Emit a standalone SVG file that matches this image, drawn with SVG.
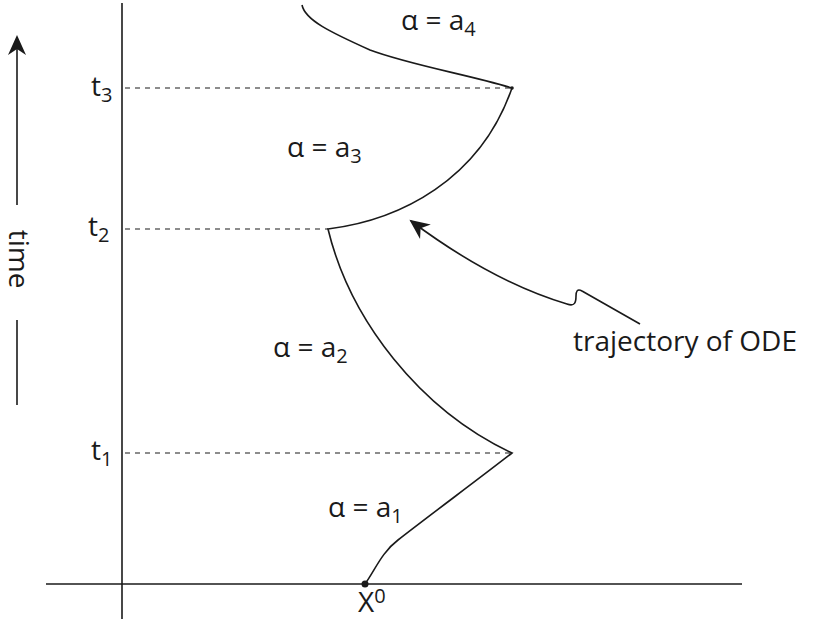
<svg xmlns="http://www.w3.org/2000/svg" width="815" height="619" viewBox="0 0 815 619">
<style>
.ln{fill:none;stroke:#1a1a1a;stroke-width:1.6}
.dash{fill:none;stroke:#1a1a1a;stroke-width:1.2;stroke-dasharray:5,5}
text{font-family:"Open Sans","DejaVu Sans",sans-serif;font-size:28px;fill:#1a1a1a}
.sub{font-size:20px}
</style>
<defs>
<marker id="ah2" viewBox="0 0 20 20" refX="18" refY="10" markerWidth="24" markerHeight="20" markerUnits="userSpaceOnUse" orient="auto">
<path d="M0,1 L20,10 L0,19 L6,10 Z" fill="#1a1a1a"/>
</marker>
</defs>
<rect width="815" height="619" fill="#fff"/>
<g id="axes">
<line class="ln" x1="122" y1="3" x2="122" y2="619"/>
<line class="ln" x1="46" y1="584" x2="742" y2="584"/>
</g>
<g id="time-axis">
<line class="ln" x1="17" y1="205" x2="17" y2="37" marker-end="url(#ah2)"/>
<text transform="translate(9,259) rotate(90)" text-anchor="middle">time</text>
<line class="ln" x1="17" y1="320" x2="17" y2="405"/>
</g>
<g id="dashes">
<line class="dash" x1="125" y1="88" x2="512" y2="88"/>
<line class="dash" x1="125" y1="229" x2="328" y2="229"/>
<line class="dash" x1="125" y1="453" x2="512" y2="453"/>
</g>
<g id="t-labels">
<text x="91" y="96">t<tspan class="sub" dy="6">3</tspan></text>
<text x="88" y="236">t<tspan class="sub" dy="6">2</tspan></text>
<text x="91" y="460">t<tspan class="sub" dy="6">1</tspan></text>
</g>
<g id="trajectory">
<path class="ln" d="M365,584 C375,570 382,552 398,540 C430,515 480,478 512,453 C420,410 350,320 328,229 C400,220 480,180 512,88 C470,75 410,65 370,50 C330,32 305,20 302,5"/>
<circle cx="365" cy="584" r="3.5" fill="#1a1a1a"/>
<circle cx="512" cy="88" r="1.8" fill="#1a1a1a"/>
</g>
<g id="labels">
<text x="401" y="30">α = a<tspan class="sub" dy="6">4</tspan></text>
<text x="287" y="157">α = a<tspan class="sub" dy="6">3</tspan></text>
<text x="273" y="357">α = a<tspan class="sub" dy="6">2</tspan></text>
<text x="328" y="517">α = a<tspan class="sub" dy="6">1</tspan></text>
<text x="358" y="612">X<tspan class="sub" dy="-9">0</tspan></text>
<text x="573" y="351">trajectory of ODE</text>
</g>
<g id="connectors">
<path class="ln" stroke-width="1" d="M640,324 L582,291 C577,288 576,292 576,296 C576,302 575,307 567,304 C520,290 470,265 411,221" marker-end="url(#ah2)"/>
</g>
</svg>
